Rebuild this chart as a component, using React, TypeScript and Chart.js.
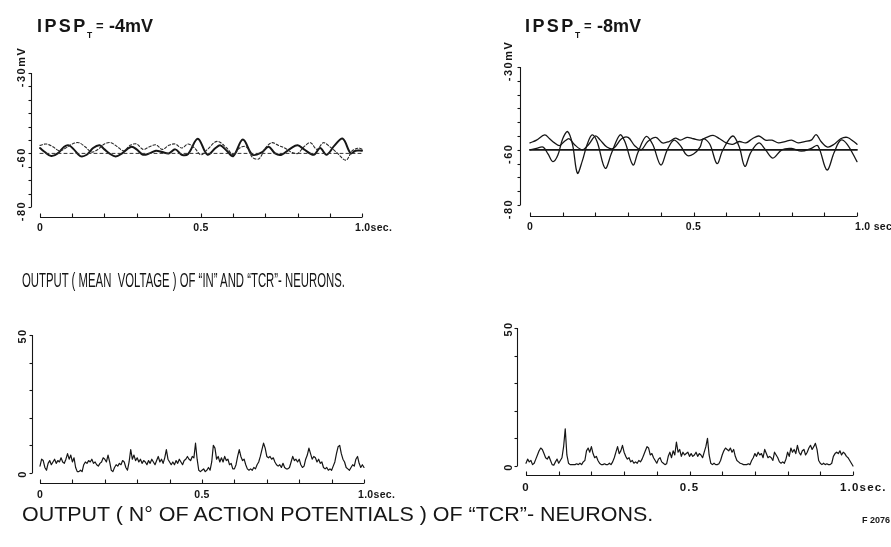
import React, { useEffect, useLayoutEffect, useRef, useState } from 'react';
import { Chart, registerables } from 'chart.js';

Chart.register(...registerables);

const W = 891;
const H = 547;
const FONT = '"Liberation Sans", Arial, Helvetica, sans-serif';
const INK = '#161616';

type Pt = [number, number];

// ---------- axis ticks / labels ----------
const timeTicks = [0, 0.1, 0.2, 0.3, 0.4, 0.5, 0.6, 0.7, 0.8, 0.9, 1.0];
const timeLabelValues = [0, 0.5, 1.0];
const timeLabelsLeft = ['0', '0.5', '1.0sec.'];
const timeLabelsRightTop = ['0', '0.5', '1.0 sec'];
const timeLabelsRightBottom = ['0', '0.5', '1.0sec.'];

const voltTicks = [-30, -35, -40, -45, -50, -55, -60, -65, -70, -75, -80];
const voltLabelValues = [-30, -60, -80];
const voltLabelTexts = ['-30mV', '-60', '-80'];
const voltLabelCores = ['-30', '-60', '-80'];

const countTicks = [0, 10, 20, 30, 40, 50];
const countLabelValues = [0, 50];
const countLabelTexts = ['0', '50'];

const restPotential = -60;

// ---------- panel A: IPSP_T = -4 mV (mean voltage, [time s, mV]) ----------
const aTcr: Pt[] = [
  [0, -58], [0.015, -59.5], [0.035, -61], [0.055, -60], [0.075, -57.5], [0.09, -57],
  [0.105, -58.5], [0.125, -61], [0.145, -60.5], [0.165, -58], [0.185, -57], [0.2, -58.5],
  [0.215, -60], [0.235, -61.2], [0.255, -60], [0.27, -58.5], [0.285, -57.5], [0.3, -58.5],
  [0.32, -60.5], [0.34, -60], [0.36, -59], [0.38, -59.5], [0.4, -60], [0.42, -58.5],
  [0.44, -60.5], [0.46, -60.2], [0.49, -54.5], [0.52, -60.5], [0.545, -58], [0.56, -57],
  [0.58, -59], [0.6, -61], [0.63, -54.8], [0.66, -60.5], [0.69, -59.5], [0.71, -57.5],
  [0.73, -60], [0.75, -60.5], [0.78, -58], [0.8, -57], [0.82, -58.5], [0.85, -60.5],
  [0.87, -58], [0.89, -60.5], [0.915, -57], [0.94, -54.5], [0.965, -60], [0.98, -59], [1, -59],
];
const aIn: Pt[] = [
  [0, -57], [0.02, -56.5], [0.04, -57.5], [0.06, -59], [0.08, -58], [0.1, -56.5], [0.12, -56],
  [0.14, -57.5], [0.16, -59.5], [0.18, -58.5], [0.2, -56.5], [0.22, -56], [0.24, -57.5],
  [0.26, -59], [0.28, -57], [0.3, -56.5], [0.32, -58.5], [0.34, -57.5], [0.36, -56.8],
  [0.38, -58.5], [0.4, -57], [0.42, -56.5], [0.44, -58], [0.46, -56.5], [0.48, -58],
  [0.5, -60.5], [0.52, -58.5], [0.55, -55.5], [0.58, -58], [0.6, -60.5], [0.62, -58],
  [0.64, -57.5], [0.66, -61.5], [0.68, -62], [0.7, -58], [0.72, -56], [0.74, -57], [0.76, -58],
  [0.78, -59.5], [0.8, -60], [0.82, -57.5], [0.84, -56], [0.86, -58.5], [0.88, -56],
  [0.9, -57.5], [0.92, -59.5], [0.95, -62.5], [0.97, -59], [0.99, -58], [1, -58.5],
];

// ---------- panel B: IPSP_T = -8 mV ----------
const bTcr: Pt[] = [
  [0, -60], [0.02, -59.5], [0.04, -59], [0.055, -61.5], [0.07, -64.3], [0.085, -62],
  [0.1, -56], [0.115, -53.4], [0.13, -58], [0.145, -68.5], [0.16, -64], [0.175, -58],
  [0.19, -54.6], [0.205, -57], [0.23, -66.7], [0.25, -61], [0.275, -54.6], [0.29, -57],
  [0.315, -65.5], [0.33, -61], [0.355, -55.2], [0.375, -58], [0.4, -65.5], [0.42, -60],
  [0.44, -56.5], [0.46, -58.5], [0.48, -62], [0.5, -61.5], [0.52, -59], [0.53, -56],
  [0.55, -58], [0.572, -65], [0.59, -60], [0.62, -55], [0.64, -59], [0.657, -66],
  [0.675, -61], [0.7, -57.5], [0.72, -60], [0.743, -63], [0.77, -60], [0.8, -59.5],
  [0.83, -60.5], [0.86, -59.5], [0.88, -58.5], [0.908, -67.3], [0.93, -61], [0.95, -56.5],
  [0.97, -58], [1, -64.3],
];
const bIn: Pt[] = [
  [0, -57.5], [0.02, -56.5], [0.045, -54.6], [0.06, -56], [0.075, -57.5], [0.09, -58.5],
  [0.105, -57], [0.12, -56], [0.135, -58], [0.16, -60], [0.18, -58], [0.2, -55],
  [0.215, -56.5], [0.235, -59], [0.255, -59.5], [0.28, -56], [0.3, -55.5], [0.32, -58.5],
  [0.34, -60], [0.36, -57], [0.385, -55.5], [0.405, -57.5], [0.425, -57], [0.445, -55.8],
  [0.46, -56.5], [0.48, -55.5], [0.5, -56], [0.52, -56.5], [0.54, -55.5], [0.56, -54.8],
  [0.58, -56], [0.6, -57.5], [0.62, -58], [0.64, -57], [0.66, -57.5], [0.68, -56],
  [0.7, -55], [0.72, -56.5], [0.74, -56.5], [0.76, -57.5], [0.78, -57], [0.8, -56.5],
  [0.82, -57.5], [0.84, -57], [0.86, -56.5], [0.875, -54.5], [0.89, -57], [0.91, -59],
  [0.93, -58], [0.95, -56], [0.97, -55.5], [0.99, -57], [1, -58],
];

// ---------- panels C / D: number of action potentials, one value per 5 ms ----------
const countBinSeconds = 0.005;
const cCounts = [
  2.5, 5, 4.5, 2, 1, 3.5, 4.5, 3, 4, 5,
  3.5, 4.5, 4, 5.5, 4, 3.5, 5, 7, 5, 6.5,
  4, 5.5, 2, 0.5, 0.5, 1, 0.5, 3, 4, 3.5,
  4.5, 4, 5, 3.5, 4, 3, 2.5, 3.5, 4, 5.5,
  5, 4, 6.5, 4, 1, 0.5, 2, 3, 2.5, 3.5,
  3, 4.5, 4, 2, 1, 4, 8.5, 5, 6.5, 4.5,
  5.5, 4, 5, 3.5, 4.5, 4, 3, 4.5, 3.5, 5,
  4, 3, 4.5, 6, 4, 5, 3.5, 5.5, 8.5, 5,
  4, 3, 4, 3, 4.5, 3.5, 5, 4, 3, 4.5,
  5, 6, 5, 4.5, 6, 5.5, 10.8, 5, 1, 0.5,
  1, 1.5, 0.5, 1, 2, 1, 4, 10, 9, 5,
  6, 4, 5.5, 4, 6, 4.5, 5, 3, 3.5, 1.5,
  1.5, 3, 6, 8.5, 6, 4.5, 5, 3, 1.5, 1,
  1.5, 1, 2, 1.5, 3, 4, 6, 8.5, 10.8, 9,
  6, 5.5, 6, 5, 5.5, 4, 3, 2.5, 3, 2,
  3.5, 2, 1.5, 1.5, 2, 4, 6, 4.5, 5, 4,
  5, 3, 2, 2.5, 5, 6.5, 9, 7, 5, 6,
  5.5, 4, 5, 3.5, 4, 2, 1.5, 2, 1, 1.5,
  1, 2.5, 4, 7, 9.5, 10, 7, 5, 4, 2,
  1.5, 1, 2, 3, 2.5, 5, 6, 3.5, 2, 3,
  2,
];
const dCounts = [
  1, 2.5, 1.5, 2, 0.5, 1, 2.5, 4, 5.5, 6.5,
  6, 4.5, 3, 2.5, 3.5, 2, 0.5, 0.3, 1.5, 2.5,
  1, 2, 3, 7, 13.5, 4, 1, 0.5, 0.5, 0.5,
  0.5, 0.8, 0.5, 1, 0.5, 1.5, 2, 5.5, 6.5, 5,
  7, 4.5, 3, 3.5, 2, 1, 0.5, 0.5, 0.8, 0.5,
  0.5, 1, 0.5, 1.5, 3, 5, 7, 4.5, 5.5, 7.5,
  5, 3.5, 2.5, 3, 1.5, 2, 1, 1.5, 1, 2,
  1.5, 2.5, 4, 5.5, 7, 6.5, 4, 4.5, 3, 2,
  1, 2.5, 3, 1.5, 1, 0.5, 0.8, 3.5, 5, 3,
  5.5, 4, 8.7, 5, 6, 3.5, 5, 4, 4.5, 5,
  3.5, 4.5, 3.5, 4, 5, 3.5, 4.5, 4, 3, 5,
  7, 10, 4, 1, 0.5, 1, 0.5, 0.5, 0.8, 2,
  4, 5.5, 6.5, 6, 5.5, 6.5, 5, 6, 3.5, 2,
  1.5, 1, 0.8, 0.5, 0.5, 0.5, 0.8, 0.5, 2, 3,
  4.5, 3.5, 5, 4, 4.5, 3, 6, 4.5, 3, 3.5,
  3, 2, 5, 4, 3, 1.5, 1, 1.5, 1, 2.5,
  5, 3.5, 6.5, 5, 6, 4.5, 7.5, 5, 4, 5.5,
  6, 4, 5, 6.5, 7.5, 6, 7, 8.2, 6, 2,
  1, 0.5, 1, 0.5, 0.8, 0.5, 0.5, 1, 3.5, 4.5,
  5, 4.5, 5.5, 4, 5, 4.5, 3.5, 3, 2, 1,
  0,
];

// ---------- helpers ----------
const toXY = (p: Pt[]) => p.map(([x, y]) => ({ x, y }));
const binsToXY = (v: number[]) => v.map((y, i) => ({ x: i * countBinSeconds, y }));
const flat = (level: number) => [{ x: 0, y: level }, { x: 1, y: level }];

const paperAxes = {
  id: 'paperAxes',
  afterDraw(chart: any, _args: any, o: any) {
    const { ctx, chartArea } = chart;
    const xs = chart.scales.x;
    const ys = chart.scales.y;
    ctx.save();
    ctx.strokeStyle = INK;
    ctx.fillStyle = INK;
    ctx.lineWidth = 1.1;
    const seg = (x1: number, y1: number, x2: number, y2: number) => {
      ctx.beginPath();
      ctx.moveTo(x1, y1);
      ctx.lineTo(x2, y2);
      ctx.stroke();
    };
    // vertical axis, detached to the left of the plot
    const ax = Math.round(chartArea.left - o.yGap) + 0.5;
    seg(ax, ys.getPixelForValue(ys.max), ax, ys.getPixelForValue(ys.min));
    o.yTicks.forEach((v: number) => {
      const py = Math.round(ys.getPixelForValue(v)) + 0.5;
      seg(ax - 3, py, ax, py);
    });
    ctx.font = `bold ${o.yFont}px ${FONT}`;
    (ctx as any).letterSpacing = o.ySpacing;
    o.yLabelValues.forEach((v: number, i: number) => {
      const core = o.yLabelCores[i];
      const wCore = ctx.measureText(core).width;
      ctx.save();
      ctx.translate(ax - o.yLabelDx, ys.getPixelForValue(v) + o.yLabelDy);
      ctx.rotate(-Math.PI / 2);
      ctx.textAlign = 'left';
      ctx.textBaseline = 'middle';
      ctx.fillText(o.yLabelTexts[i], -wCore / 2, 0);
      ctx.restore();
    });
    (ctx as any).letterSpacing = '0px';
    // horizontal axis, detached below the plot, ticks pointing up
    const ay = Math.round(chartArea.bottom + o.xGap) + 0.5;
    seg(xs.getPixelForValue(xs.min), ay, xs.getPixelForValue(xs.max), ay);
    o.xTicks.forEach((v: number) => {
      const px = Math.round(xs.getPixelForValue(v)) + 0.5;
      seg(px, ay, px, ay - 4);
    });
    ctx.font = `bold ${o.xFont}px ${FONT}`;
    (ctx as any).letterSpacing = o.xSpacing;
    ctx.textBaseline = 'middle';
    o.xLabelValues.forEach((v: number, i: number) => {
      const last = i === o.xLabelValues.length - 1;
      ctx.textAlign = last ? 'left' : 'center';
      const px = xs.getPixelForValue(v) + (last ? o.lastDx : 0);
      ctx.fillText(o.xLabelTexts[i], px, ay + o.xLabelDy);
    });
    ctx.restore();
  },
};

type Area = { left: number; top: number; right: number; bottom: number };

function Panel(props: { area: Area; yMin: number; yMax: number; datasets: any[]; axes: any }) {
  const ref = useRef<HTMLCanvasElement>(null);
  useEffect(() => {
    const { area } = props;
    const chart = new Chart(ref.current as HTMLCanvasElement, {
      type: 'line',
      data: { datasets: props.datasets },
      options: {
        animation: false,
        responsive: false,
        maintainAspectRatio: false,
        devicePixelRatio: 1,
        events: [],
        layout: {
          padding: { left: area.left, top: area.top, right: W - area.right, bottom: H - area.bottom },
        },
        scales: {
          x: { type: 'linear', min: 0, max: 1, display: false },
          y: { type: 'linear', min: props.yMin, max: props.yMax, display: false },
        },
        elements: {
          point: { radius: 0 },
          line: { borderCapStyle: 'round', borderJoinStyle: 'round', fill: false },
        },
        plugins: {
          legend: { display: false },
          tooltip: { enabled: false },
          paperAxes: props.axes,
        } as any,
      },
      plugins: [paperAxes as any],
    });
    return () => chart.destroy();
  }, []);
  return (
    <canvas
      ref={ref}
      width={W}
      height={H}
      style={{ position: 'absolute', left: 0, top: 0, width: W, height: H }}
    />
  );
}

function FitText(props: { text: string; left: number; top: number; width: number; size: number; weight?: string | number }) {
  const ref = useRef<HTMLSpanElement>(null);
  const [sx, setSx] = useState(1);
  useLayoutEffect(() => {
    const w = ref.current ? ref.current.offsetWidth : 0;
    if (w > 0) setSx(props.width / w);
  }, [props.text, props.width]);
  return (
    <span
      ref={ref}
      style={{
        position: 'absolute',
        left: props.left,
        top: props.top,
        fontFamily: FONT,
        fontSize: props.size,
        fontWeight: props.weight ?? 'normal',
        lineHeight: `${props.size}px`,
        whiteSpace: 'pre',
        color: INK,
        transform: `scaleX(${sx})`,
        transformOrigin: 'left top',
      }}
    >
      {props.text}
    </span>
  );
}

const txt = (left: number, top: number, size: number, extra: any = {}) => ({
  position: 'absolute' as const,
  left,
  top,
  fontFamily: FONT,
  fontSize: size,
  fontWeight: 'bold' as const,
  lineHeight: `${size}px`,
  whiteSpace: 'pre' as const,
  color: INK,
  ...extra,
});

function Title(props: { left: number; value: string }) {
  const l = props.left;
  return (
    <>
      <span style={txt(l, 16.5, 18, { letterSpacing: '2.4px' })}>IPSP</span>
      <span style={txt(l + 50, 30.5, 8.5)}>T</span>
      <span style={txt(l + 59, 18.5, 13)}>=</span>
      <span style={txt(l + 72, 16.5, 18)}>{props.value}</span>
    </>
  );
}

const voltAxes = (yGap: number, xGap: number, yLabelDx: number, lastDx: number, xLabels: string[]) => ({
  yGap,
  xGap,
  yTicks: voltTicks,
  yLabelValues: voltLabelValues,
  yLabelTexts: voltLabelTexts,
  yLabelCores: voltLabelCores,
  yLabelDx,
  yLabelDy: 4,
  yFont: 11,
  ySpacing: '1.5px',
  xTicks: timeTicks,
  xLabelValues: timeLabelValues,
  xLabelTexts: xLabels,
  xLabelDy: 11,
  xFont: 10.5,
  xSpacing: '0.3px',
  lastDx,
});

const countAxes = (yGap: number, xGap: number, yLabelDx: number, lastDx: number, xLabels: string[], xFont: number, xSpacing: string) => ({
  yGap,
  xGap,
  yTicks: countTicks,
  yLabelValues: countLabelValues,
  yLabelTexts: countLabelTexts,
  yLabelCores: countLabelTexts,
  yLabelDx,
  yLabelDy: 1,
  yFont: 11,
  ySpacing: '1.5px',
  xTicks: timeTicks,
  xLabelValues: timeLabelValues,
  xLabelTexts: xLabels,
  xLabelDy: 12,
  xFont,
  xSpacing,
  lastDx,
});

export default function App() {
  const restA = { data: flat(restPotential), borderColor: '#333', borderWidth: 1, borderDash: [3, 3], tension: 0, clip: 6 };
  const panelA = [
    restA,
    { data: toXY(aIn), borderColor: '#2a2a2a', borderWidth: 1.1, borderDash: [2.5, 2], tension: 0.35, clip: 6 },
    { data: toXY(aTcr), borderColor: INK, borderWidth: 2, tension: 0.35, clip: 6 },
  ];
  const panelB = [
    { data: flat(restPotential), borderColor: INK, borderWidth: 1.8, tension: 0, clip: 6 },
    { data: toXY(bIn), borderColor: INK, borderWidth: 1.3, tension: 0.35, clip: 6 },
    { data: toXY(bTcr), borderColor: INK, borderWidth: 1.3, tension: 0.35, clip: 6 },
  ];
  const panelC = [{ data: binsToXY(cCounts), borderColor: INK, borderWidth: 1.2, tension: 0, clip: 6 }];
  const panelD = [{ data: binsToXY(dCounts), borderColor: INK, borderWidth: 1.2, tension: 0, clip: 6 }];

  return (
    <div style={{ position: 'absolute', left: 0, top: 0, width: W, height: H, background: '#fff', overflow: 'hidden' }}>
      <Panel area={{ left: 40, top: 73, right: 362, bottom: 207 }} yMin={-80} yMax={-30} datasets={panelA}
        axes={voltAxes(9, 10, 10, -7, timeLabelsLeft)} />
      <Panel area={{ left: 530, top: 67, right: 857, bottom: 205 }} yMin={-80} yMax={-30} datasets={panelB}
        axes={voltAxes(10, 11, 12, -2, timeLabelsRightTop)} />
      <Panel area={{ left: 40, top: 335, right: 364, bottom: 473 }} yMin={0} yMax={50} datasets={panelC}
        axes={countAxes(8, 10, 10, -6, timeLabelsLeft, 10.5, '0.3px')} />
      <Panel area={{ left: 526, top: 328, right: 853, bottom: 466 }} yMin={0} yMax={50} datasets={panelD}
        axes={countAxes(9, 9, 9, -13, timeLabelsRightBottom, 11.5, '1.2px')} />

      <Title left={37} value="-4mV" />
      <Title left={525} value="-8mV" />

      <FitText text={'OUTPUT ( MEAN  VOLTAGE ) OF \u201CIN\u201D AND \u201CTCR\u201D- NEURONS.'} left={22} top={269.5} width={323} size={20} />
      <FitText text={'OUTPUT ( N\u00B0 OF ACTION POTENTIALS ) OF \u201CTCR\u201D- NEURONS.'} left={22} top={503.3} width={631} size={21} />
      <span style={txt(862, 515.8, 9)}>F 2076</span>
    </div>
  );
}
